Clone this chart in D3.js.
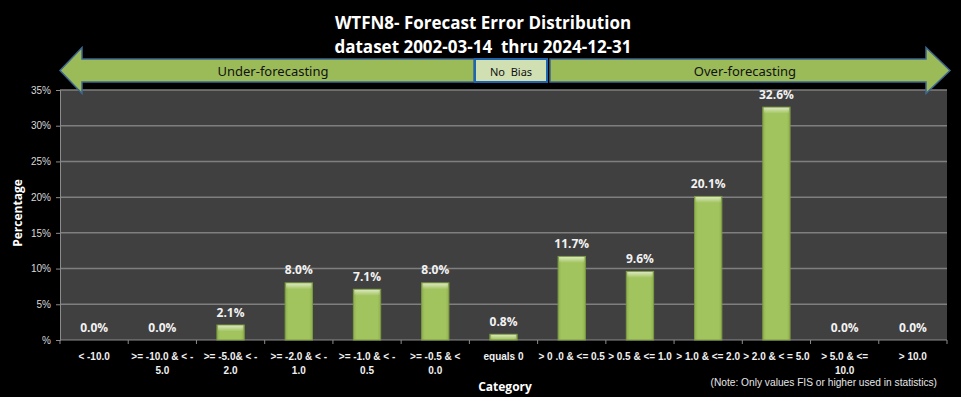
<!DOCTYPE html>
<html>
<head>
<meta charset="utf-8">
<script src="https://cdn.jsdelivr.net/npm/d3@7"></script>
<style>
  body { margin: 0; background: #000; }
  svg { display: block; font-family: "Open Sans", "Noto Sans", sans-serif; }
</style>
</head>
<body>
<svg id="chart" width="961" height="397"></svg>
<script>
// chart data
var categories = ["< -10.0", ">= -10.0 & < -|5.0", ">= -5.0& < -|2.0", ">= -2.0 & < -|1.0",
                  ">= -1.0 & < -|0.5", ">= -0.5 & <|0.0", "equals 0", "> 0 .0 & <= 0.5",
                  "> 0.5 & <= 1.0", "> 1.0 & <= 2.0", "> 2.0 & < = 5.0", "> 5.0 & <=|10.0", "> 10.0"];
var values = [0.0, 0.0, 2.1, 8.0, 7.1, 8.0, 0.8, 11.7, 9.6, 20.1, 32.6, 0.0, 0.0];
var yTicks = [0, 5, 10, 15, 20, 25, 30, 35];
var titleLines = ["WTFN8- Forecast Error Distribution", "dataset 2002-03-14  thru 2024-12-31"];

var svg = d3.select("#chart");

var margin = {top: 90, right: 14, bottom: 57, left: 60},
    width = 961 - margin.left - margin.right,
    height = 397 - margin.top - margin.bottom;

var x = d3.scaleBand()
    .domain(categories)
    .range([0, width])
    .paddingInner(0.6)
    .paddingOuter(0.3);

var y = d3.scaleLinear()
    .domain([0, 35])
    .range([height, 0]);

// gradients for the bevelled bars
var defs = svg.append("defs");
var g1 = defs.append("linearGradient").attr("id", "barGrad").attr("x1", 0).attr("x2", 1).attr("y1", 0).attr("y2", 0);
g1.append("stop").attr("offset", "0%").attr("stop-color", "#8fb04f");
g1.append("stop").attr("offset", "12%").attr("stop-color", "#a2c45e");
g1.append("stop").attr("offset", "88%").attr("stop-color", "#a2c45e");
g1.append("stop").attr("offset", "100%").attr("stop-color", "#8fb04f");
var g2 = defs.append("linearGradient").attr("id", "bevel").attr("x1", 0).attr("x2", 0).attr("y1", 0).attr("y2", 1);
g2.append("stop").attr("offset", "0%").attr("stop-color", "#ffffff").attr("stop-opacity", 0.6);
g2.append("stop").attr("offset", "100%").attr("stop-color", "#ffffff").attr("stop-opacity", 0);

// title
svg.append("g").selectAll("text")
    .data(titleLines)
  .enter().append("text")
    .attr("x", 483)
    .attr("y", function(d, i) { return 29 + i * 24; })
    .attr("text-anchor", "middle")
    .attr("fill", "#fff")
    .style("font-size", "17px")
    .style("font-weight", "bold")
    .style("white-space", "pre")
    .text(function(d) { return d; });

var plot = svg.append("g")
    .attr("transform", "translate(" + margin.left + "," + margin.top + ")");

plot.append("rect")
    .attr("width", width)
    .attr("height", height)
    .attr("fill", "#404040");

// gridlines
plot.append("g").selectAll("line")
    .data(yTicks.slice(1))
  .enter().append("line")
    .attr("x1", 0)
    .attr("x2", width)
    .attr("y1", function(d) { return y(d); })
    .attr("y2", function(d) { return y(d); })
    .attr("stroke", "#7f7f7f")
    .attr("stroke-width", 1.5);

// y axis
var yAxis = plot.append("g")
    .call(d3.axisLeft(y).tickValues(yTicks).tickSize(4)
      .tickFormat(function(d) { return d === 0 ? "%" : d + "%"; }));
yAxis.select(".domain").attr("stroke", "#8c8c8c");
yAxis.selectAll(".tick line").attr("stroke", "#8c8c8c");
yAxis.selectAll("text")
    .attr("fill", "#d9d9d9")
    .attr("x", -9)
    .style("font-size", "10px")
    .style("font-family", "'Liberation Sans', sans-serif");

// x axis with ticks at category edges
var edges = categories.map(function(c, i) { return i * x.step(); }).concat([width]);
plot.append("line")
    .attr("x1", 0).attr("x2", width)
    .attr("y1", height).attr("y2", height)
    .attr("stroke", "#8c8c8c");
plot.append("g").selectAll("line")
    .data(edges)
  .enter().append("line")
    .attr("x1", function(d) { return d; })
    .attr("x2", function(d) { return d; })
    .attr("y1", height)
    .attr("y2", height + 4)
    .attr("stroke", "#8c8c8c");

var xl = plot.append("g").selectAll("text")
    .data(categories)
  .enter().append("text")
    .attr("text-anchor", "middle")
    .attr("fill", "#f0f0f0")
    .style("font-size", "10px")
    .style("font-weight", "bold")
    .style("font-family", "'Liberation Sans', sans-serif");
xl.selectAll("tspan")
    .data(function(d) { return d.split("|").map(function(s) { return {t: s, c: d}; }); })
  .enter().append("tspan")
    .attr("x", function(d) { return x(d.c) + x.bandwidth() / 2; })
    .attr("y", function(d, i) { return height + 20 + i * 14; })
    .text(function(d) { return d.t; });

// bars
var bars = plot.append("g").selectAll("g")
    .data(values)
  .enter().append("g");
bars.append("rect")
    .attr("x", function(d, i) { return x(categories[i]); })
    .attr("y", function(d) { return y(d); })
    .attr("width", x.bandwidth())
    .attr("height", function(d) { return height - y(d); })
    .attr("fill", "url(#barGrad)")
    .attr("stroke", "#7c9a43")
    .attr("stroke-width", function(d) { return d > 0 ? 1 : 0; });
bars.append("rect")
    .attr("x", function(d, i) { return x(categories[i]) + 1; })
    .attr("y", function(d) { return y(d) + 0.5; })
    .attr("width", x.bandwidth() - 2)
    .attr("height", function(d) { return Math.max(0, Math.min(6, height - y(d) - 1)); })
    .attr("fill", "url(#bevel)");

// data labels
plot.append("g").selectAll("text")
    .data(values)
  .enter().append("text")
    .attr("x", function(d, i) { return x(categories[i]) + x.bandwidth() / 2; })
    .attr("y", function(d) { return y(d) - 8.5; })
    .attr("text-anchor", "middle")
    .attr("fill", "#f2f2f2")
    .style("font-size", "12px")
    .style("font-weight", "bold")
    .text(function(d) { return d.toFixed(1) + "%"; });

// axis titles
svg.append("text")
    .attr("transform", "translate(22,213) rotate(-90)")
    .attr("text-anchor", "middle")
    .attr("fill", "#fff")
    .style("font-size", "12px")
    .style("font-weight", "bold")
    .text("Percentage");
svg.append("text")
    .attr("x", 505)
    .attr("y", 391)
    .attr("text-anchor", "middle")
    .attr("fill", "#fff")
    .style("font-size", "12px")
    .style("font-weight", "bold")
    .text("Category");
svg.append("text")
    .attr("x", 937)
    .attr("y", 386)
    .attr("text-anchor", "end")
    .attr("fill", "#e6e6e6")
    .style("font-size", "10.2px")
    .style("font-family", "'Liberation Sans', sans-serif")
    .text("(Note: Only values FIS or higher used in statistics)");

// bias arrows
var arrowY = 70.5, shaftH = 23, headH = 46;
var left = d3.path();
left.moveTo(60, arrowY);
left.lineTo(82, arrowY - headH / 2);
left.lineTo(82, arrowY - shaftH / 2);
left.lineTo(474, arrowY - shaftH / 2);
left.lineTo(474, arrowY + shaftH / 2);
left.lineTo(82, arrowY + shaftH / 2);
left.lineTo(82, arrowY + headH / 2);
left.closePath();
var right = d3.path();
right.moveTo(950, arrowY);
right.lineTo(926, arrowY - headH / 2);
right.lineTo(926, arrowY - shaftH / 2);
right.lineTo(550, arrowY - shaftH / 2);
right.lineTo(550, arrowY + shaftH / 2);
right.lineTo(926, arrowY + shaftH / 2);
right.lineTo(926, arrowY + headH / 2);
right.closePath();

svg.selectAll("path.arrow")
    .data([left.toString(), right.toString()])
  .enter().append("path")
    .attr("class", "arrow")
    .attr("d", function(d) { return d; })
    .attr("fill", "#9bbb59")
    .attr("stroke", "#3e6690")
    .attr("stroke-width", 1.5);

svg.append("rect")
    .attr("x", 475).attr("y", 59)
    .attr("width", 72).attr("height", 23)
    .attr("fill", "#d0e0b3")
    .attr("stroke", "#1f66ae")
    .attr("stroke-width", 2);

var arrowText = [["Under-forecasting", 273, 13], ["No  Bias", 511, 11], ["Over-forecasting", 745, 13]];
svg.append("g").selectAll("text")
    .data(arrowText)
  .enter().append("text")
    .attr("x", function(d) { return d[1]; })
    .attr("y", arrowY + 5)
    .attr("text-anchor", "middle")
    .attr("fill", "#111")
    .style("font-size", function(d) { return d[2] + "px"; })
    .style("font-family", "'Noto Sans', sans-serif")
    .style("white-space", "pre")
    .text(function(d) { return d[0]; });
</script>
</body>
</html>
